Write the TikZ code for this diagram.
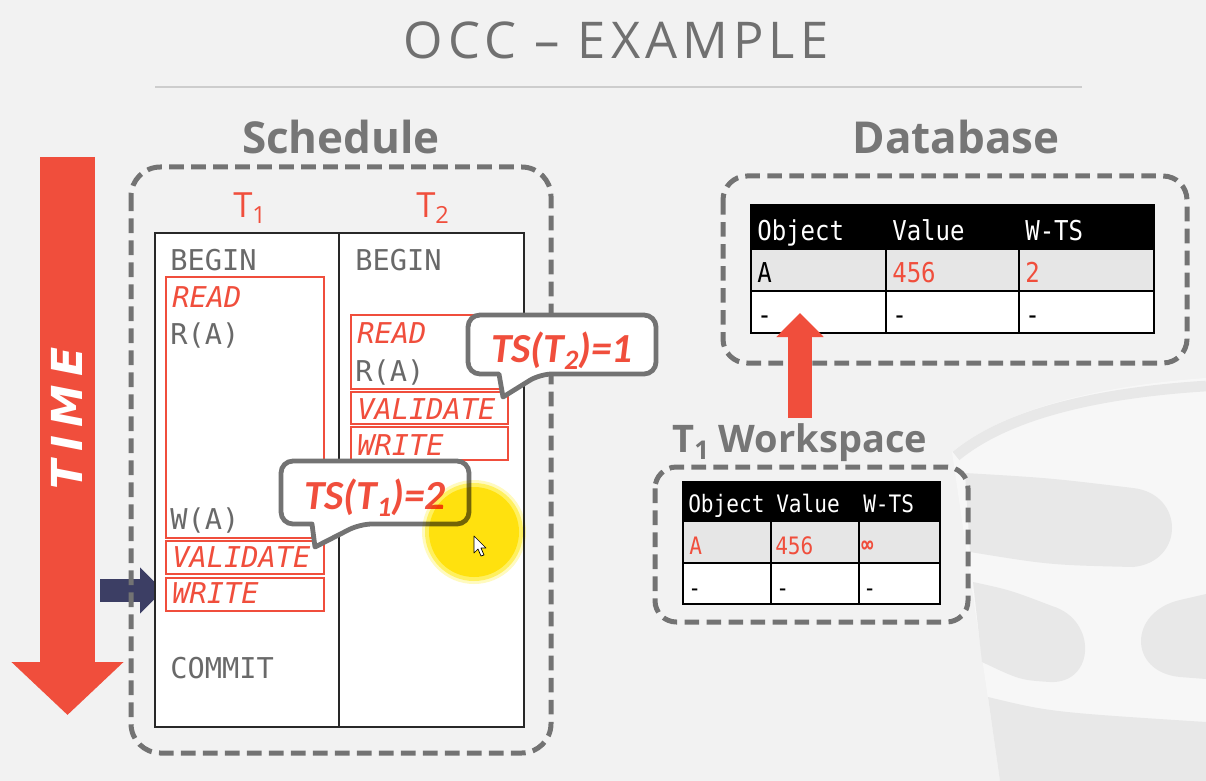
\documentclass[tikz,border=0pt]{standalone}
\usepackage{fontspec}
\setmainfont{Open Sans}
\newfontfamily\titlefont{Open Sans}[LetterSpace=10]
\newfontfamily\headfont{Open Sans}
\newfontfamily\monofont{DejaVu Sans Mono}[ItalicFont={DejaVu Sans Mono Oblique}]
\newfontfamily\tabfont{DejaVu Sans Mono}[FakeStretch=0.88]
\newfontfamily\calfont{Carlito}
\newfontfamily\timefont{DejaVu Sans}[LetterSpace=20]
\usetikzlibrary{arrows.meta}
\definecolor{myred}{RGB}{240,78,60}
\definecolor{txtgray}{RGB}{105,105,105}
\definecolor{titlegray}{RGB}{112,112,112}
\definecolor{headgray}{RGB}{118,118,118}
\definecolor{dashgray}{RGB}{115,115,115}
\definecolor{navy}{RGB}{60,62,100}
\definecolor{bg}{RGB}{242,242,242}
\definecolor{rowgray}{RGB}{230,230,230}
\definecolor{icon}{RGB}{232,232,232}
\definecolor{iconlight}{RGB}{247,247,247}
\definecolor{rulegray}{RGB}{205,205,205}
\newcommand\mysub[1]{\raisebox{-0.35ex}{\scalebox{0.68}{#1}}}
\begin{document}
\begin{tikzpicture}[x=0.75pt,y=-0.75pt,
  dashbox/.style={draw=dashgray, line width=3.75pt, dash pattern=on 11pt off 5.5pt},
  tabline/.style={draw={rgb,255:red,40;green,40;blue,40}, line width=1.4pt},
  redbox/.style={draw=myred, line width=1.3pt},
  sch/.style={anchor=base west, inner sep=0, text=txtgray, font=\monofont\fontsize{21.5}{21.5}\selectfont},
  schred/.style={anchor=base west, inner sep=0, text=myred, font=\monofont\itshape\fontsize{21.5}{21.5}\selectfont},
  head/.style={anchor=base, inner sep=0, text=headgray, font=\headfont\bfseries\fontsize{33}{33}\selectfont},
  tlabel/.style={anchor=base west, inner sep=0, text=myred, font=\headfont\fontsize{26}{26}\selectfont},
  calltxt/.style={anchor=base, inner sep=0, text=myred, font=\calfont\bfseries\itshape\fontsize{31}{31}\selectfont},
  callbox/.style={draw=dashgray, line width=3.6pt, fill=white, line join=round},
  dbtxt/.style={anchor=base west, inner sep=0, font=\tabfont\fontsize{20.5}{20.5}\selectfont},
  wstxt/.style={anchor=base west, inner sep=0, font=\tabfont\fontsize{18}{18}\selectfont},
  tbl/.style={draw=black, line width=2pt}
]
\useasboundingbox (0,0) rectangle (1206,781);
\fill[bg] (0,0) rectangle (1206,781);

% ---- background database icon ----
\fill[iconlight] (952,452) .. controls (1010,405) and (1110,385) .. (1206,378) -- (1206,781) -- (1000,781) -- cycle;
\draw[icon, line width=8pt] (956,456) .. controls (1012,410) and (1110,392) .. (1206,386);
\fill[icon] (965,473) .. controls (1050,478) .. (1133,488) .. controls (1185,494) and (1185,562) .. (1133,567) .. controls (1050,565) .. (970,552) -- cycle;
\fill[icon] (973,582) .. controls (1010,590) .. (1052,606) .. controls (1098,620) and (1095,684) .. (1050,682) .. controls (1020,680) .. (982,662) -- cycle;
\fill[icon] (1206,594) -- (1180,600) .. controls (1128,612) and (1128,672) .. (1180,677) -- (1206,679) -- cycle;
\fill[icon] (988,697) .. controls (1050,712) .. (1206,722) -- (1206,781) -- (1000,781) -- cycle;

% ---- title ----
\node[anchor=base, inner sep=0, text=titlegray, font=\titlefont\fontsize{38}{38}\selectfont] (title) at (616,59) {OCC – EXAMPLE};
\draw[rulegray, line width=2.2pt] (155,87) -- (1082,87);

% ---- headings ----
\node[head] (schedlbl) at (341,154) {Schedule};
\node[head] (dblbl) at (956,154) {Database};

% ---- time arrow ----
\coordinate (timetop) at (67.5,157);
\coordinate (timetip) at (67.5,715);
\draw[myred, line width=41.25pt, -{Triangle[width=81.75pt,length=39.75pt]}] (timetop) -- (timetip);
\node[rotate=90, inner sep=0, text=white, font=\timefont\bfseries\itshape\fontsize{32}{32}\selectfont] (timelbl) at (67,418) {TIME};

% ---- navy pointer ----
\coordinate (ptrfoot) at (100,590.5);
\coordinate (ptrtip) at (163,590.5);
\draw[navy, line width=17.25pt, -{Triangle[width=33.75pt,length=17.25pt]}] (ptrfoot) -- (ptrtip);

% ---- schedule ----
\draw[dashbox, rounded corners=22pt] (131,167) rectangle (551,753);
\fill[white] (155,233) rectangle (524,727);
\draw[tabline] (155,233) rectangle (524,727);
\draw[tabline] (339,233) -- (339,727);

\node[tlabel] (t1) at (233,217) {T\mysub{1}};
\node[tlabel] (t2) at (416,217) {T\mysub{2}};

\draw[redbox] (166,277) rectangle (324,538);
\draw[redbox] (166,541) rectangle (324,574);
\draw[redbox] (166,578) rectangle (324,611);
\draw[redbox] (351,315) rectangle (508,389);
\draw[redbox] (351,392) rectangle (508,424);
\draw[redbox] (351,427) rectangle (508,460);

\node[sch] (b1) at (170,270) {BEGIN};
\node[schred] (r1) at (172,307) {READ};
\node[sch] (ra1) at (170,344) {R(A)};
\node[sch] (wa1) at (170,529) {W(A)};
\node[schred] (v1) at (172,567) {VALIDATE};
\node[schred] (w1) at (172,603) {WRITE};
\node[sch] (c1) at (170,678) {COMMIT};

\node[sch] (b2) at (355,270) {BEGIN};
\node[schred] (r2) at (357,343) {READ};
\node[sch] (ra2) at (355,381) {R(A)};
\node[schred] (v2) at (357,419) {VALIDATE};
\node[schred] (w2) at (357,455) {WRITE};

% ---- callouts ----
\draw[callbox, rounded corners=9pt] (281,461) -- (469,461) -- (469,524) -- (360,524) [sharp corners] -- (315,547) -- (312,524) [rounded corners=9pt] -- (281,524) -- cycle;
\node[calltxt] (ts1) at (375,509) {TS(T\mysub{1})=2};

\draw[callbox, rounded corners=9pt] (468,315) -- (656,315) -- (656,374) -- (540,374) [sharp corners] -- (503,397) -- (499,374) [rounded corners=9pt] -- (468,374) -- cycle;
\node[calltxt] (ts2) at (562,362) {TS(T\mysub{2})=1};

% ---- mouse highlight ----
\begin{scope}[blend mode=multiply]
\fill[yellow!95!orange, opacity=0.25] (474,532) circle[radius=52];
\fill[yellow!95!orange, opacity=0.5] (474,532) circle[radius=49];
\fill[yellow!95!orange, opacity=0.85] (474,532) circle[radius=45];
\end{scope}
\draw[black, fill=white, line width=0.5pt, line join=round] (474,536) -- (474,553) -- (478,549) -- (481,556) -- (484,555) -- (481,548) -- (486,548) -- cycle;

% ---- database ----
\draw[dashbox, rounded corners=18pt] (723,176) rectangle (1187,363);
\fill[black] (751,205) rectangle (1154,249);
\fill[rowgray] (751,249) rectangle (1154,291);
\fill[white] (751,291) rectangle (1154,333);
\draw[tbl] (751,205) rectangle (1154,333);
\draw[tbl] (751,249) -- (1154,249);
\draw[tbl] (751,291) -- (1154,291);
\draw[tbl] (886,205) -- (886,333);
\draw[tbl] (1019,205) -- (1019,333);
\node[dbtxt, text=white] (dbh1) at (757,240) {Object};
\node[dbtxt, text=white] (dbh2) at (892,240) {Value};
\node[dbtxt, text=white] (dbh3) at (1025,240) {W-TS};
\node[dbtxt, text=black] (dba1) at (757,282) {A};
\node[dbtxt, text=myred] (dba2) at (892,282) {456};
\node[dbtxt, text=myred] (dba3) at (1025,282) {2};
\node[dbtxt, text=black] (dbb1) at (757,324) {-};
\node[dbtxt, text=black] (dbb2) at (892,324) {-};
\node[dbtxt, text=black] (dbb3) at (1025,324) {-};

% ---- workspace ----
\node[anchor=base west, inner sep=0, text=headgray, font=\headfont\bfseries\fontsize{28.5}{28.5}\selectfont] (wslbl) at (672,452) {T\mysub{1} Workspace};
\draw[dashbox, rounded corners=16pt] (655,467) rectangle (968,622);
\fill[black] (683,482) rectangle (940,521);
\fill[rowgray] (683,521) rectangle (940,563);
\fill[white] (683,563) rectangle (940,604);
\draw[tbl] (683,482) rectangle (940,604);
\draw[tbl] (683,521) -- (940,521);
\draw[tbl] (683,563) -- (940,563);
\draw[tbl] (771,482) -- (771,604);
\draw[tbl] (859,482) -- (859,604);
\node[wstxt, text=white] (wsh1) at (688,512) {Object};
\node[wstxt, text=white] (wsh2) at (776,512) {Value};
\node[wstxt, text=white] (wsh3) at (863,512) {W-TS};
\node[wstxt, text=myred] (wsa1) at (689,554) {A};
\node[wstxt, text=myred] (wsa2) at (775,554) {456};
\node[wstxt, text=myred, font=\tabfont\bfseries\fontsize{17}{17}\selectfont] (wsa3) at (861,552) {∞};
\node[wstxt, text=black] (wsb1) at (688,596) {-};
\node[wstxt, text=black] (wsb2) at (776,596) {-};
\node[wstxt, text=black] (wsb3) at (863,596) {-};

% ---- write-back arrow ----
\coordinate (wsfoot) at (800,418);
\coordinate (dbtip) at (800,313);
\draw[myred, line width=18pt, -{Triangle[width=34.5pt,length=18pt]}] (wsfoot) -- (dbtip);
\end{tikzpicture}
\end{document}
